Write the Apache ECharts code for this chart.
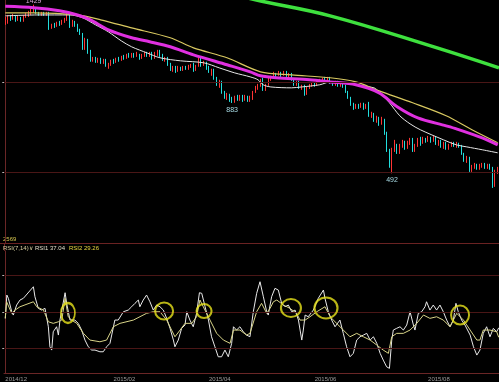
<!DOCTYPE html>
<html><head><meta charset="utf-8">
<script src="https://cdn.jsdelivr.net/npm/echarts@6/dist/echarts.min.js"></script>
<style>html,body{margin:0;padding:0;background:#000;}#c{width:499px;height:382px;}</style>
</head><body><div id="c"></div>
<script>
// daily candles: [open, close, low, high]
const candles = [
[1323,1350,1317,1361],[1334,1361,1323,1372],[1361,1350,1339,1372],[1350,1367,1345,1378],[1367,1345,1334,1372],
[1345,1356,1339,1367],[1356,1339,1334,1361],[1339,1361,1334,1372],[1361,1372,1356,1384],[1372,1378,1361,1395],
[1378,1395,1372,1406],[1395,1400,1384,1429],[1400,1384,1378,1412],[1384,1378,1367,1389],[1378,1384,1367,1389],
[1384,1372,1367,1389],[1372,1384,1367,1389],[1384,1300,1289,1389],[1300,1317,1295,1323],[1317,1311,1300,1328],
[1311,1328,1306,1334],[1328,1323,1311,1339],[1323,1339,1317,1345],[1339,1345,1328,1356],[1345,1378,1339,1389],
[1378,1311,1300,1384],[1311,1334,1306,1345],[1334,1317,1306,1339],[1317,1289,1278,1323],[1289,1267,1261,1295],
[1267,1189,1178,1272],[1189,1234,1178,1245],[1234,1167,1156,1239],[1167,1123,1112,1178],[1123,1134,1112,1139],
[1134,1117,1106,1139],[1117,1128,1106,1134],[1128,1112,1100,1134],[1112,1123,1100,1128],[1123,1089,1084,1128],
[1089,1100,1073,1106],[1100,1117,1089,1123],[1117,1112,1100,1128],[1112,1128,1106,1134],[1128,1123,1112,1139],
[1123,1139,1117,1145],[1139,1134,1123,1150],[1134,1150,1128,1156],[1150,1139,1134,1161],[1139,1156,1134,1161],
[1156,1145,1134,1161],[1145,1150,1139,1167],[1150,1134,1123,1156],[1134,1150,1128,1156],[1150,1161,1139,1167],
[1161,1145,1139,1167],[1145,1161,1139,1167],[1161,1134,1123,1167],[1134,1156,1128,1167],[1156,1167,1145,1178],
[1167,1150,1139,1178],[1150,1123,1117,1156],[1123,1134,1112,1139],[1134,1100,1089,1139],[1100,1073,1061,1106],
[1073,1084,1056,1089],[1084,1061,1050,1089],[1061,1078,1056,1089],[1078,1067,1061,1084],[1067,1084,1061,1089],
[1084,1073,1067,1089],[1073,1089,1067,1095],[1089,1095,1078,1100],[1095,1067,1056,1106],[1067,1089,1061,1095],
[1089,1128,1084,1134],[1128,1095,1084,1134],[1095,1106,1089,1117],[1106,1078,1067,1112],[1078,1056,1050,1089],
[1056,1067,1034,1073],[1067,1023,1012,1073],[1023,989,978,1028],[989,1000,967,1012],[1000,945,934,1006],
[945,917,906,950],[917,928,900,939],[928,895,889,934],[895,889,883,917],[889,917,884,923],
[917,900,895,928],[900,923,895,928],[923,900,889,928],[900,917,895,928],[917,895,889,923],
[895,911,889,923],[911,945,900,950],[945,967,939,978],[967,978,956,989],[978,1012,973,1017],
[1012,956,950,1023],[956,984,950,989],[984,1012,978,1023],[1012,1028,1006,1034],[1028,1045,1023,1056],
[1045,1039,1028,1050],[1039,1050,1034,1061],[1050,1039,1028,1056],[1039,1056,1034,1061],[1056,1034,1028,1061],
[1034,1045,1023,1050],[1045,1012,1006,1050],[1012,989,978,1017],[989,1000,978,1006],[1000,967,961,1006],
[967,978,956,984],[978,934,923,984],[934,967,928,973],[967,978,961,989],[978,989,973,995],
[989,984,973,995],[984,1000,978,1006],[1000,1012,995,1017],[1012,1017,1000,1023],[1017,1006,1000,1028],
[1006,1023,1000,1028],[1023,995,989,1028],[995,989,978,1000],[989,1000,978,1006],[1000,978,973,1006],
[978,989,973,995],[989,978,967,995],[978,945,939,984],[945,911,906,950],[911,878,867,917],
[878,856,845,884],[856,873,850,878],[873,862,850,878],[862,878,856,884],[878,856,845,884],
[856,867,850,878],[878,817,806,889],[817,823,800,834],[823,789,778,828],[789,800,773,812],
[800,767,756,806],[767,789,762,806],[789,717,706,795],[717,623,611,723],[623,534,523,628],
[534,623,492,634],[623,650,611,678],[650,611,600,656],[611,645,600,656],[645,667,634,678],
[667,634,623,673],[634,662,628,673],[662,678,650,689],[678,623,611,689],[623,650,611,656],
[650,678,639,689],[678,667,645,695],[667,684,656,695],[684,673,662,689],[673,689,667,700],
[689,678,662,695],[678,689,667,700],[689,662,650,695],[662,673,645,678],[673,645,634,678],
[645,662,628,667],[662,634,623,667],[634,650,623,656],[650,662,639,667],[662,645,639,667],
[645,656,634,667],[656,645,634,662],[645,600,595,650],[600,567,556,606],[567,578,550,589],
[578,512,500,584],[512,528,500,539],[528,539,517,550],[539,523,512,545],[523,534,512,545],
[534,545,523,550],[545,528,517,550],[528,539,517,545],[539,523,512,545],[523,423,411,528],
[423,500,417,512],[500,523,489,528]
];

// moving averages: [day index, price]
const maWhite = [[0,1367],[13,1372],[25,1372],[30,1356],[35,1317],[40,1278],[45,1228],[49,1195],[55,1161],[60,1134],
 [68,1117],[77,1106],[83,1078],[89,1050],[95,1028],[98,1012],[100,984],[103,972],[111,967],[115,972],[122,984],
 [126,1000],[132,995],[136,984],[143,967],[145,945],[149,884],[153,812],[157,767],[161,734],[170,678],[175,650],
 [179,639],[185,623],[191,606]];
const maMagenta = [[0,1420],[11,1412],[21,1395],[28,1372],[33,1345],[40,1289],[49,1245],[56,1223],[64,1195],
 [73,1150],[86,1095],[95,1056],[99,1034],[105,1023],[118,1012],[126,1000],[136,984],[145,939],[152,862],
 [160,800],[171,756],[175,739],[185,689],[191,650]];
const maYellow = [[0,1384],[11,1384],[28,1372],[37,1345],[49,1300],[64,1245],[73,1189],[86,1134],[99,1056],
 [111,1039],[126,1023],[136,1000],[145,950],[158,884],[171,812],[181,734],[191,662]];
const maGreen = [[88,1490],[97,1456],[126,1367],[165,1200],[191.5,1078]];

// RSI lines: [day index, value]
const rsi1 = [[0,44.8],[0.6,63.9],[1.2,61.2],[2.5,50.2],[3.1,47.5],[4.4,55.7],[5.7,59.8],[7.0,61.2],[10.9,70.7],
 [11.5,62.5],[12.8,53.0],[14.1,51.6],[15.4,53.0],[16.0,51.6],[16.7,37.9],[17.3,21.5],[18.0,18.8],[18.6,33.8],
 [19.9,37.9],[20.6,31.1],[21.2,43.4],[23.2,65.8],[23.8,57.1],[25.1,43.4],[25.7,42.0],[27.0,43.4],[28.3,40.7],
 [29.6,35.2],[30.9,27.0],[32.2,21.5],[33.5,18.8],[34.8,18.8],[36.7,17.4],[38.0,17.4],[39.3,21.5],[40.6,24.3],
 [42.5,43.4],[43.8,43.4],[45.8,50.2],[47.7,51.6],[49.0,54.3],[50.3,57.1],[51.6,59.8],[52.2,54.3],[53.5,59.8],
 [54.8,63.9],[56.1,58.4],[57.4,51.6],[58.7,55.7],[60.0,54.3],[61.3,51.6],[62.6,44.8],[63.9,36.6],[65.2,27.0],
 [65.8,21.5],[67.1,27.0],[68.4,36.6],[69.7,39.3],[70.4,50.2],[71.6,43.4],[72.9,37.9],[74.2,48.9],[75.3,65.8],
 [76.2,65.3],[77.5,54.3],[78.8,43.4],[80.0,29.7],[81.3,21.5],[82.6,13.3],[83.9,13.3],[85.2,18.8],[86.5,13.3],
 [87.8,24.3],[88.5,37.9],[89.7,35.2],[91.0,37.9],[92.3,33.8],[93.6,31.1],[94.9,29.7],[96.2,50.2],[97.5,65.3],
 [98.8,74.8],[100.1,62.5],[101.4,50.2],[102.0,47.5],[103.3,62.5],[104.6,69.4],[105.9,68.0],[107.2,57.1],
 [108.5,54.3],[109.8,55.7],[111.1,50.2],[112.4,51.6],[113.7,43.4],[115.0,27.0],[115.6,35.2],[116.3,47.5],
 [117.5,46.1],[119.5,51.6],[121.4,61.2],[123.4,68.0],[124.0,61.2],[125.3,50.2],[126.6,43.4],[127.9,37.9],
 [129.8,43.4],[131.1,32.5],[132.4,21.5],[133.7,13.3],[135.0,16.1],[136.3,27.0],[137.6,29.7],[138.9,31.1],
 [140.2,32.5],[141.5,27.0],[142.8,29.7],[144.1,24.3],[145.4,16.1],[146.6,10.6],[147.9,5.1],[149.0,3.8],
 [149.9,27.0],[150.5,35.2],[151.8,36.6],[153.1,37.9],[154.4,35.2],[155.7,39.3],[157.0,50.2],[158.3,39.3],
 [158.9,35.2],[160.2,48.9],[161.5,50.2],[162.8,54.3],[163.4,58.4],[164.7,51.6],[166.0,55.7],[167.3,51.6],
 [168.6,55.7],[169.9,50.2],[171.2,43.4],[172.5,37.9],[173.8,43.4],[174.8,57.1],[175.7,50.2],[177.0,43.4],
 [178.3,39.3],[180.3,31.1],[181.6,21.5],[182.9,14.7],[184.1,18.8],[185.4,32.5],[186.7,37.9],[188.0,29.7],
 [189.3,36.6],[190.6,33.8],[191.4,37.04]];
const rsi2 = [[0,44.8],[0.5,58.4],[2.5,48.9],[3.8,51.6],[5.7,54.3],[10.9,58.4],[12.2,54.3],[14.8,51.6],[16.7,42.0],
 [18.6,40.7],[20.6,42.0],[21.9,43.4],[23.2,61.2],[24.4,46.1],[25.7,43.4],[27.7,40.7],[30.3,32.5],[32.8,27.0],
 [36.7,25.6],[39.3,27.0],[41.9,37.9],[44.5,40.7],[49.7,43.4],[54.8,48.9],[57.4,50.2],[60.0,50.2],[62.6,43.4],
 [64.5,35.2],[65.8,29.7],[67.8,35.2],[69.7,40.7],[72.3,40.7],[74.2,46.1],[75.5,59.8],[76.8,54.3],[79.4,43.4],
 [82.0,32.5],[84.6,27.0],[87.2,24.3],[88.5,35.2],[91.0,35.2],[93.6,31.1],[94.9,32.5],[97.5,50.2],[99.4,57.1],
 [101.4,48.9],[102.7,53.0],[104.0,58.4],[105.3,59.8],[107.9,55.7],[110.4,53.0],[113.0,48.9],[114.3,43.4],
 [116.3,43.4],[118.2,46.1],[120.8,50.2],[124.0,54.3],[126.0,46.1],[128.5,40.7],[131.1,35.2],[133.7,29.7],
 [136.3,32.5],[138.9,29.7],[141.5,27.0],[144.1,22.9],[146.6,18.8],[148.6,16.1],[149.9,29.7],[151.8,32.5],
 [154.4,32.5],[157.0,35.2],[159.6,40.7],[162.2,47.5],[164.7,44.8],[167.3,46.1],[169.9,43.4],[172.5,37.9],
 [175.1,48.9],[177.7,43.4],[180.3,35.2],[182.9,27.0],[184.1,27.0],[185.4,35.2],[188.0,35.2],[190.6,33.8],
 [191.4,29.26]];

// highlighted RSI spots: [day index, value]
const circleSpots = [[24.3,49.2],[61.6,50.8],[77.1,50.8],[110.8,53.3],[124.4,53.3],[176.4,47.5]];

const tickLabels = [[0,'2014/12'],[42,'2015/02'],[79,'2015/04'],[120,'2015/06'],[164,'2015/08']];
const extremes = [[11,1429],[88,883],[150,492]];
const priceLevels = [500,1000];
const rsiLevels = [20,50,80];
const headerTexts = ['2569','RSI(7,14)\u2228','RSI1 37.04','RSI2 29.26'];

// ---------- styles ----------
const circleSizes = [[14,20],[18,17],[15,14],[20,18],[23,21],[18,19]];
const FONT = 'Liberation Sans';
const axisRed = '#6a2626', gridRed = '#4a1616';
const N = candles.length;
const cats = candles.map((_, i) => String(i));
const tickMap = new Map(tickLabels);

const chart = echarts.init(document.getElementById('c'));
const lineSeries = (name, data, color, width, xi, yi, smooth) => ({
  name, type: 'line', data, xAxisIndex: xi, yAxisIndex: yi, smooth: smooth, symbol: 'none',
  lineStyle: { color, width }, silent: true, z: 3
});
chart.setOption({
  backgroundColor: '#000',
  animation: false,
  grid: [{ left: 4, right: 0, top: 0, height: 243 }, { left: 4, right: 0, top: 251, height: 122 }],
  xAxis: [
    { type: 'category', gridIndex: 0, data: cats, boundaryGap: true, show: false },
    { type: 'value', gridIndex: 0, min: -0.5, max: N - 0.5, show: false },
    { type: 'category', gridIndex: 1, data: cats, boundaryGap: true,
      axisLine: { show: true, lineStyle: { color: axisRed } }, axisTick: { show: false }, splitLine: { show: false },
      axisLabel: { show: true, interval: (i) => tickMap.has(i), formatter: (v) => tickMap.get(Number(v)) || '',
        align: 'left', color: '#9c9c9c', fontSize: 6, margin: 3, fontFamily: FONT } },
    { type: 'value', gridIndex: 1, min: -0.5, max: N - 0.5, show: false }
  ],
  yAxis: [
    { type: 'value', gridIndex: 0, min: 105, max: 1455, axisLine: { show: true, lineStyle: { color: axisRed } },
      axisTick: { show: true, customValues: priceLevels, length: 3, lineStyle: { color: '#b8b8b8' } },
      axisLabel: { show: false }, splitLine: { show: false } },
    { type: 'value', gridIndex: 1, min: 0, max: 100, axisLine: { show: true, lineStyle: { color: axisRed } },
      axisTick: { show: true, customValues: rsiLevels, length: 3, lineStyle: { color: '#b8b8b8' } },
      axisLabel: { show: false }, splitLine: { show: false } }
  ],
  graphic: [
    { type: 'line', shape: { x1: 0, y1: 243.5, x2: 499, y2: 243.5 }, style: { stroke: '#6a2222', lineWidth: 1 }, silent: true },
    { type: 'line', shape: { x1: 4.5, y1: 243, x2: 4.5, y2: 251 }, style: { stroke: axisRed, lineWidth: 1 }, silent: true },
    { type: 'text', x: 3, y: 239, style: { text: headerTexts[0], fill: '#d8c850', font: '6px ' + FONT, verticalAlign: 'middle' } },
    { type: 'text', x: 3, y: 248, style: { text: headerTexts[1], fill: '#d8d0a0', font: '6px ' + FONT, verticalAlign: 'middle' } },
    { type: 'text', x: 35, y: 248, style: { text: headerTexts[2], fill: '#e0dcc8', font: '6px ' + FONT, verticalAlign: 'middle' } },
    { type: 'text', x: 69, y: 248, style: { text: headerTexts[3], fill: '#e8d840', font: '6px ' + FONT, verticalAlign: 'middle' } }
  ],
  series: [
    { type: 'candlestick', xAxisIndex: 0, yAxisIndex: 0, data: candles, silent: true, z: 2,
      itemStyle: { color: '#ff3434', color0: '#22dede', borderColor: '#ff3434', borderColor0: '#22dede', borderWidth: 1 },
      markLine: { silent: true, symbol: ['none', 'none'], label: { show: false },
        lineStyle: { color: gridRed, type: 'solid', width: 1 }, data: priceLevels.map(v => ({ yAxis: v })) },
      markPoint: { symbol: 'circle', symbolSize: 1, itemStyle: { color: 'rgba(0,0,0,0)' }, silent: true,
        data: extremes.map(([i, v], k) => ({ coord: [String(i), v], value: v,
          label: { show: true, position: k === 0 ? 'top' : 'bottom', distance: k === 0 ? 0 : 3,
            color: k === 0 ? '#d8a8d8' : '#a8dce6', fontSize: 7, fontFamily: FONT, formatter: String(v) } })) } },
    lineSeries('MAW', maWhite, '#e6e6e6', 1, 1, 0, 0.3),
    lineSeries('MAY', maYellow, '#d8c860', 1.2, 1, 0, 0.3),
    lineSeries('MAM', maMagenta, '#e030e0', 3, 1, 0, 0.3),
    lineSeries('MAG', maGreen, '#3ee03e', 3.5, 1, 0, 0.4),
    Object.assign(lineSeries('RSI1', rsi1, '#e8e8e8', 1, 3, 1, false), {
      markLine: { silent: true, symbol: ['none', 'none'], label: { show: false },
        lineStyle: { color: gridRed, type: 'solid', width: 1 }, data: rsiLevels.map(v => ({ yAxis: v })) } }),
    lineSeries('RSI2', rsi2, '#d8d488', 1, 3, 1, false),
    { type: 'scatter', xAxisIndex: 3, yAxisIndex: 1, silent: true, z: 5,
      data: circleSpots.map((p, k) => ({ value: p, symbolSize: circleSizes[k] })),
      itemStyle: { color: 'rgba(0,0,0,0)', borderColor: '#e8e41c', borderWidth: 2 } }
  ]
});
</script></body></html>
